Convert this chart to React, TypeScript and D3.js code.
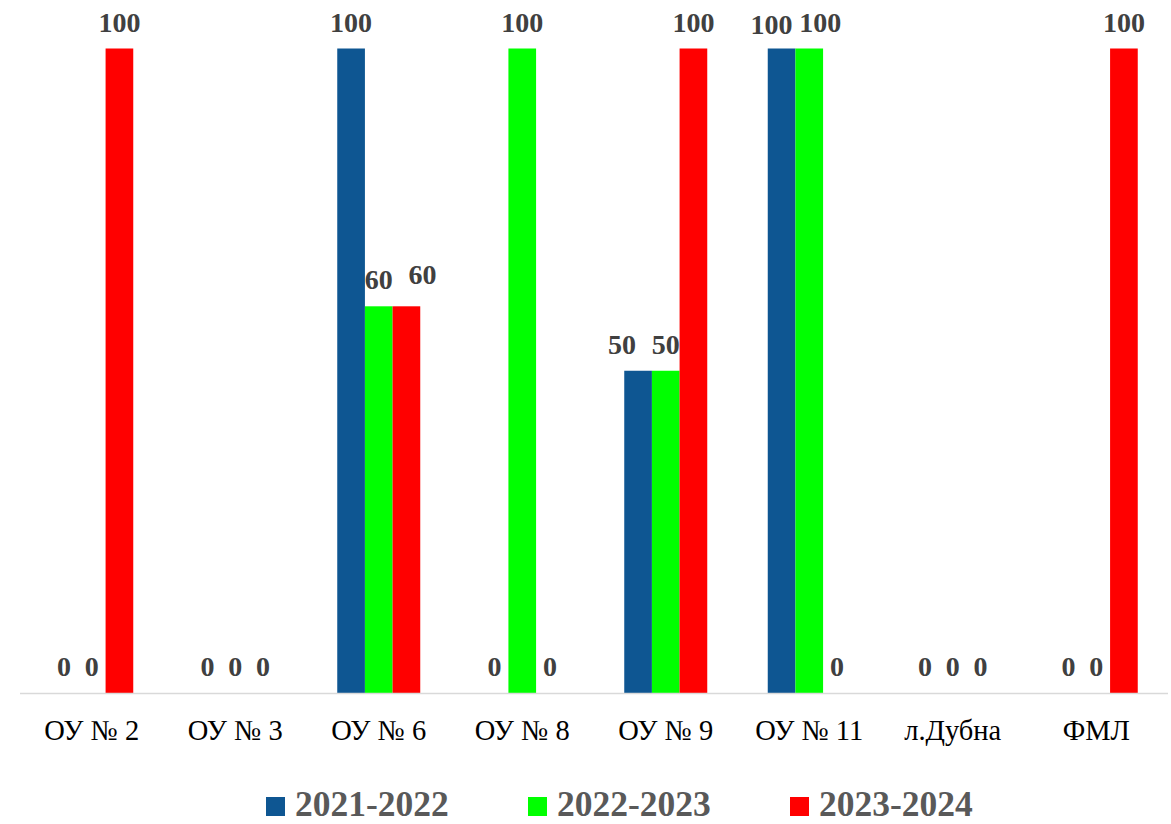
import React from "react";
import * as d3 from "d3";

const categories = ["ОУ № 2", "ОУ № 3", "ОУ № 6", "ОУ № 8", "ОУ № 9", "ОУ № 11", "л.Дубна", "ФМЛ"];
const seriesNames = ["2021-2022", "2022-2023", "2023-2024"];
const values2021 = [0, 0, 100, 0, 50, 100, 0, 0];
const values2022 = [0, 0, 60, 100, 50, 100, 0, 0];
const values2023 = [100, 0, 60, 0, 100, 0, 0, 100];
const seriesValues = [values2021, values2022, values2023];
const colors = ["#0E5692", "#00FF00", "#FF0000"];

// manual label nudges (as in the original, to avoid overlaps)
const labelNudges: Record<string, [number, number]> = {
  "2-2": [16, -5],
  "4-0": [-16, 0],
  "5-0": [-10, 2],
  "5-1": [11, 0],
};

const W = 1171;
const H = 824;
const FONT = '"Liberation Serif", "Times New Roman", serif';

export default function App() {
  const left = 20;
  const right = 1168;
  const baseline = 693;
  const top = 48.5;

  const x = d3
    .scaleBand<string>()
    .domain(categories)
    .range([left, right])
    .paddingInner(0.4216)
    .paddingOuter(0.2108);
  const xs = d3
    .scaleBand<string>()
    .domain(seriesNames)
    .range([0, x.bandwidth()]);
  const y = d3.scaleLinear().domain([0, 100]).range([baseline, top]);

  const legendX = [266, 528, 790];

  return (
    <svg
      width={W}
      height={H}
      style={{ position: "absolute", left: 0, top: 0, background: "#fff" }}
    >
      {seriesNames.map((s, si) =>
        categories.map((c, ci) => {
          const v = seriesValues[si][ci];
          const bx = (x(c) ?? 0) + (xs(s) ?? 0);
          return v > 0 ? (
            <rect
              key={`b-${si}-${ci}`}
              x={bx}
              y={y(v)}
              width={xs.bandwidth()}
              height={baseline - y(v)}
              fill={colors[si]}
            />
          ) : null;
        })
      )}
      <line x1={left} x2={right} y1={baseline + 0.5} y2={baseline + 0.5} stroke="#d9d9d9" strokeWidth={1.3} />
      {seriesNames.map((s, si) =>
        categories.map((c, ci) => {
          const v = seriesValues[si][ci];
          const cx = (x(c) ?? 0) + (xs(s) ?? 0) + xs.bandwidth() / 2;
          const n = labelNudges[`${ci}-${si}`] ?? [0, 0];
          return (
            <text
              key={`l-${si}-${ci}`}
              x={cx + n[0]}
              y={y(v) - 17 + n[1]}
              textAnchor="middle"
              fontFamily={FONT}
              fontWeight="bold"
              fontSize={28}
              fill="#404040"
            >
              {v}
            </text>
          );
        })
      )}
      {categories.map((c) => (
        <text
          key={`c-${c}`}
          x={(x(c) ?? 0) + x.bandwidth() / 2}
          y={740}
          textAnchor="middle"
          fontFamily={FONT}
          fontSize={28.5}
          fill="#000"
        >
          {c}
        </text>
      ))}
      {seriesNames.map((s, si) => (
        <g key={`lg-${s}`}>
          <rect x={legendX[si]} y={797} width={19} height={19} fill={colors[si]} />
          <text
            x={legendX[si] + 29}
            y={816}
            fontFamily={FONT}
            fontWeight="bold"
            fontSize={35.5}
            fill="#595959"
          >
            {s}
          </text>
        </g>
      ))}
    </svg>
  );
}
